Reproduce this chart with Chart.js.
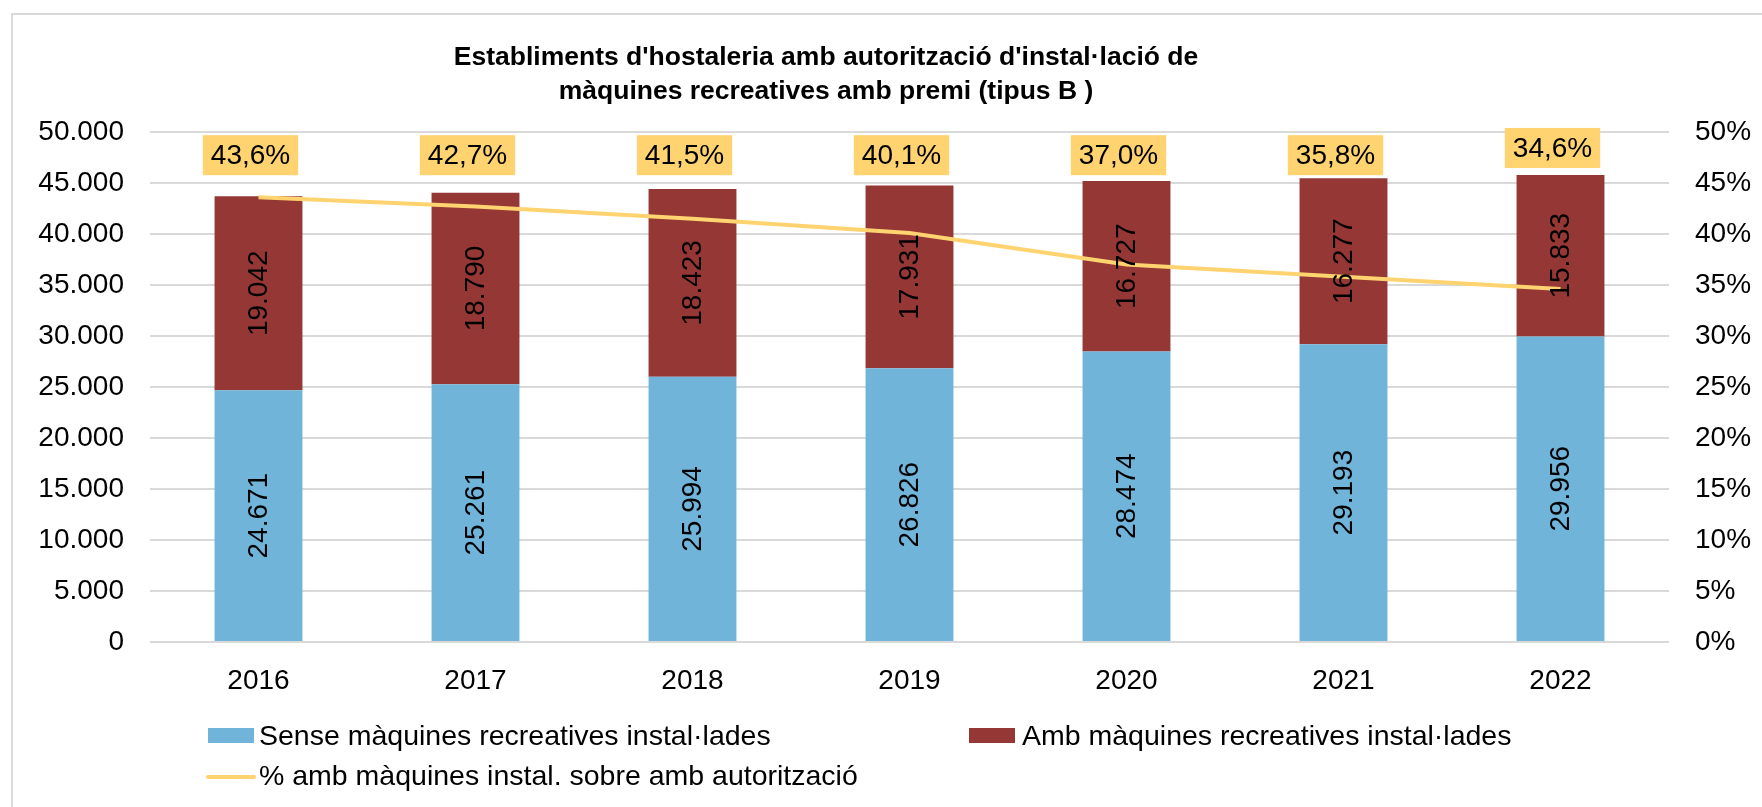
<!DOCTYPE html>
<html lang="ca">
<head>
    <meta charset="UTF-8">
    <title>Establiments d'hostaleria amb màquines recreatives</title>
    <script src="https://cdn.jsdelivr.net/npm/chart.js"></script>
    <style>
        body { margin: 0; background: #fff; }
        .marc {
            position: absolute; left: 11px; top: 13px; width: 1780px; height: 820px;
            border: 2px solid #d9d9d9;
        }
        #grafic { position: absolute; left: 0; top: 0; }
    </style>
</head>
<body>
    <div class="marc"></div>
    <canvas id="grafic" width="1762" height="807"></canvas>
<script>
    // dades llegides del gràfic
    const anys = ['2016', '2017', '2018', '2019', '2020', '2021', '2022'];
    const senseMaquines = [24671, 25261, 25994, 26826, 28474, 29193, 29956];
    const ambMaquines = [19042, 18790, 18423, 17931, 16727, 16277, 15833];
    const percentatge = [43.6, 42.7, 41.5, 40.1, 37.0, 35.8, 34.6];
    const titol = ["Establiments d'hostaleria amb autorització d'instal·lació de",
                   "màquines recreatives amb premi (tipus B )"];

    const FONT = "'Liberation Sans', Arial, sans-serif";
    const BLAU = '#70b4da';
    const VERMELL = '#953735';
    const GROC = '#ffd36f';

    function milers(v) {
        return String(v).replace(/\B(?=(\d{3})+(?!\d))/g, '.');
    }
    function perc(v) {
        return v.toFixed(1).replace('.', ',') + '%';
    }

    // etiquetes, títol i llegenda dibuixats a mà
    const extres = {
        id: 'extres',
        afterDraw(chart) {
            const c = chart.ctx;
            const y = chart.scales.y;

            // valors dins de les barres (girats)
            c.save();
            c.fillStyle = '#000';
            c.font = '28px ' + FONT;
            c.textAlign = 'center';
            c.textBaseline = 'middle';
            [0, 1].forEach(i => {
                const meta = chart.getDatasetMeta(i);
                meta.data.forEach((bar, j) => {
                    const cy = (bar.y + bar.base) / 2;
                    c.save();
                    c.translate(bar.x, cy);
                    c.rotate(-Math.PI / 2);
                    c.fillText(milers(chart.data.datasets[i].data[j]), 0, 1);
                    c.restore();
                });
            });

            // percentatges en caixa groga sobre cada barra
            const fix = y.getPixelForValue(45766);
            const meta2 = chart.getDatasetMeta(1);
            meta2.data.forEach((bar, j) => {
                const txt = perc(percentatge[j]);
                const w = c.measureText(txt).width + 16;
                const h = 40;
                const cx = bar.x - 8;
                const baix = bar.y < fix + 1 ? bar.y - 7 : fix;
                c.fillStyle = GROC;
                c.fillRect(cx - w / 2, baix - h, w, h);
                c.fillStyle = '#000';
                c.fillText(txt, cx, baix - h / 2 + 1);
            });

            // títol
            c.font = 'bold 26.5px ' + FONT;
            c.fillText(titol[0], 826, 58);
            c.fillText(titol[1], 826, 92);

            // llegenda
            const ds = chart.data.datasets;
            c.font = '28.5px ' + FONT;
            c.textAlign = 'left';
            c.fillStyle = BLAU;
            c.fillRect(208, 728, 46, 15);
            c.fillStyle = VERMELL;
            c.fillRect(969, 728, 46, 15);
            c.strokeStyle = GROC;
            c.lineWidth = 4;
            c.lineCap = 'round';
            c.beginPath();
            c.moveTo(208, 777);
            c.lineTo(254, 777);
            c.stroke();
            c.fillStyle = '#000';
            c.fillText(ds[0].label, 259, 737);
            c.fillText(ds[1].label, 1022, 737);
            c.fillText(ds[2].label, 259, 777);
            c.restore();
        }
    };

    new Chart(document.getElementById('grafic'), {
        type: 'bar',
        data: {
            labels: anys,
            datasets: [
                {
                    label: 'Sense màquines recreatives instal·lades',
                    data: senseMaquines,
                    backgroundColor: BLAU,
                    yAxisID: 'y',
                    order: 2,
                    categoryPercentage: 1,
                    barPercentage: 0.405
                },
                {
                    label: 'Amb màquines recreatives instal·lades',
                    data: ambMaquines,
                    backgroundColor: VERMELL,
                    yAxisID: 'y',
                    order: 2,
                    categoryPercentage: 1,
                    barPercentage: 0.405
                },
                {
                    type: 'line',
                    label: '% amb màquines instal. sobre amb autorització',
                    data: percentatge,
                    borderColor: GROC,
                    borderWidth: 4,
                    pointRadius: 0,
                    tension: 0,
                    yAxisID: 'y1',
                    order: 1
                }
            ]
        },
        options: {
            responsive: false,
            animation: false,
            devicePixelRatio: 1,
            layout: { padding: { left: 0, right: 0, top: 132, bottom: 105 } },
            plugins: {
                legend: { display: false },
                title: { display: false },
                tooltip: { enabled: false }
            },
            scales: {
                x: {
                    stacked: true,
                    grid: { display: false },
                    border: { display: false },
                    ticks: { color: '#000', font: { family: FONT, size: 28 }, padding: 14 },
                    afterFit(s) { s.height = 60; }
                },
                y: {
                    stacked: true,
                    min: 0,
                    max: 50000,
                    grid: { color: '#d9d9d9', lineWidth: 2, drawTicks: false },
                    border: { display: false },
                    ticks: {
                        stepSize: 5000,
                        color: '#000',
                        font: { family: FONT, size: 28 },
                        padding: 26,
                        callback: v => milers(v)
                    },
                    afterFit(s) { s.width = 150; }
                },
                y1: {
                    position: 'right',
                    min: 0,
                    max: 50,
                    grid: { drawOnChartArea: false, drawTicks: false },
                    border: { display: false },
                    ticks: {
                        stepSize: 5,
                        color: '#000',
                        font: { family: FONT, size: 28 },
                        padding: 26,
                        callback: v => v + '%'
                    },
                    afterFit(s) { s.width = 93; }
                }
            }
        },
        plugins: [extres]
    });
</script>
</body>
</html>
